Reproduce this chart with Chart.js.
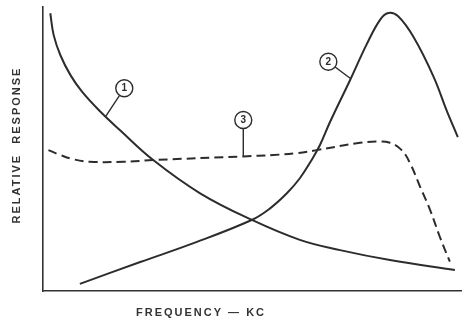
<!DOCTYPE html>
<html>
<head>
<meta charset="utf-8">
<script src="https://cdn.jsdelivr.net/npm/chart.js@4.4.1/dist/chart.umd.min.js"></script>
<style>
  html, body { margin: 0; padding: 0; background: #fff; }
  #wrap { position: relative; width: 462px; height: 321px; }
</style>
</head>
<body>
<div id="wrap"><canvas id="chart"></canvas></div>
<script>
// Relative response curves vs frequency (no numeric ticks on the original, 0-100 scale)
var curve1X = [1.74, 2.55, 4.13, 6.52, 9.31, 13.6, 18.4, 26.3, 37.5, 49.6, 61.3, 70.9, 82.8, 98.3];
var curve1Y = [97.8, 90.1, 83.1, 76.1, 70.2, 63.3, 56.6, 46.1, 34.4, 25.2, 18.0, 14.4, 10.9, 7.4];

var curve2X = [8.8, 23.2, 35.1, 49.8, 54.2, 58.2, 61.3, 64.1, 66.1, 68.5, 73.3, 77.3, 80.4, 82.4, 84.7, 88.4, 93.2, 96.3, 99.0];
var curve2Y = [2.5, 10.2, 16.4, 25.0, 29.1, 34.4, 39.7, 46.1, 51.4, 59.5, 74.3, 87.0, 95.4, 97.9, 96.8, 89.5, 75.5, 63.7, 54.2];

var curve3X = [1.3, 4.1, 7.2, 11.2, 19.2, 26.3, 47.8, 55.0, 60.5, 65.3, 74.9, 79.6, 82.8, 85.6, 87.6, 90.0, 92.4, 94.7, 97.1];
var curve3Y = [49.6, 47.9, 46.4, 45.5, 45.5, 46.1, 47.4, 47.9, 48.5, 49.6, 52.0, 52.6, 52.2, 49.6, 45.0, 36.7, 28.5, 19.1, 10.3];

// circled curve numbers: circle centre and the point the leader touches
var labelText = ['1', '2', '3'];
var labelX = [19.4, 68.1, 47.8];
var labelY = [71.4, 80.7, 60.2];
var leaderX = [15.0, 73.3, 47.8];
var leaderY = [61.6, 74.9, 47.4];

var xTitle = 'FREQUENCY — KC';
var yTitle = 'RELATIVE  RESPONSE';

var ink = '#2c2c2c';

function pts(xs, ys) {
  return xs.map(function(x, i) { return { x: x, y: ys[i] }; });
}

var labelsPlugin = {
  id: 'circledLabels',
  afterDatasetsDraw: function(chart) {
    var ctx = chart.ctx, sx = chart.scales.x, sy = chart.scales.y;
    var r = 8.5;
    ctx.save();
    ctx.strokeStyle = ink;
    ctx.lineWidth = 1.4;
    labelText.forEach(function(t, i) {
      var cx = sx.getPixelForValue(labelX[i]), cy = sy.getPixelForValue(labelY[i]);
      var ex = sx.getPixelForValue(leaderX[i]), ey = sy.getPixelForValue(leaderY[i]);
      var ang = Math.atan2(ey - cy, ex - cx);
      ctx.beginPath();
      ctx.moveTo(cx + r * Math.cos(ang), cy + r * Math.sin(ang));
      ctx.lineTo(ex, ey);
      ctx.stroke();
      ctx.beginPath();
      ctx.fillStyle = '#fff';
      ctx.arc(cx, cy, r, 0, Math.PI * 2);
      ctx.fill();
      ctx.stroke();
      ctx.fillStyle = ink;
      ctx.font = 'bold 10px "Liberation Sans", Arial, sans-serif';
      ctx.textAlign = 'center';
      ctx.textBaseline = 'middle';
      ctx.fillText(t, cx, cy + 0.5);
    });
    ctx.restore();
  },
  afterDraw: function(chart) {
    var ctx = chart.ctx;
    ctx.save();
    ctx.fillStyle = '#333';
    ctx.font = 'bold 11px "Liberation Sans", Arial, sans-serif';
    ctx.letterSpacing = '2px';
    ctx.textAlign = 'center';
    ctx.textBaseline = 'middle';
    ctx.fillText(xTitle, 201, 313);
    ctx.translate(17, 145);
    ctx.rotate(-Math.PI / 2);
    ctx.fillText(yTitle, 0, 0);
    ctx.restore();
  }
};

function lineSet(xs, ys, dash) {
  return {
    data: pts(xs, ys),
    borderColor: ink,
    borderWidth: 2,
    borderDash: dash || [],
    pointRadius: 0,
    fill: false,
    tension: 0.4
  };
}

new Chart(document.getElementById('chart').getContext('2d'), {
  type: 'line',
  data: {
    datasets: [
      lineSet(curve1X, curve1Y),
      lineSet(curve2X, curve2Y),
      lineSet(curve3X, curve3Y, [9, 5])
    ]
  },
  options: {
    responsive: true,
    maintainAspectRatio: false,
    animation: false,
    layout: { padding: { left: 43, right: 0, top: 7, bottom: 30 } },
    plugins: { legend: { display: false }, tooltip: { enabled: false } },
    scales: {
      x: {
        type: 'linear', min: 0, max: 100,
        ticks: { display: false },
        grid: { display: true, color: 'rgba(0,0,0,0)', drawTicks: false },
        border: { display: true, color: '#333', width: 1.6 },
        afterFit: function(s) { s.height = 0; }
      },
      y: {
        type: 'linear', min: 0, max: 100,
        ticks: { display: false },
        grid: { display: true, color: 'rgba(0,0,0,0)', drawTicks: false },
        border: { display: true, color: '#333', width: 1.6 },
        afterFit: function(s) { s.width = 0; }
      }
    }
  },
  plugins: [labelsPlugin]
});
</script>
</body>
</html>
